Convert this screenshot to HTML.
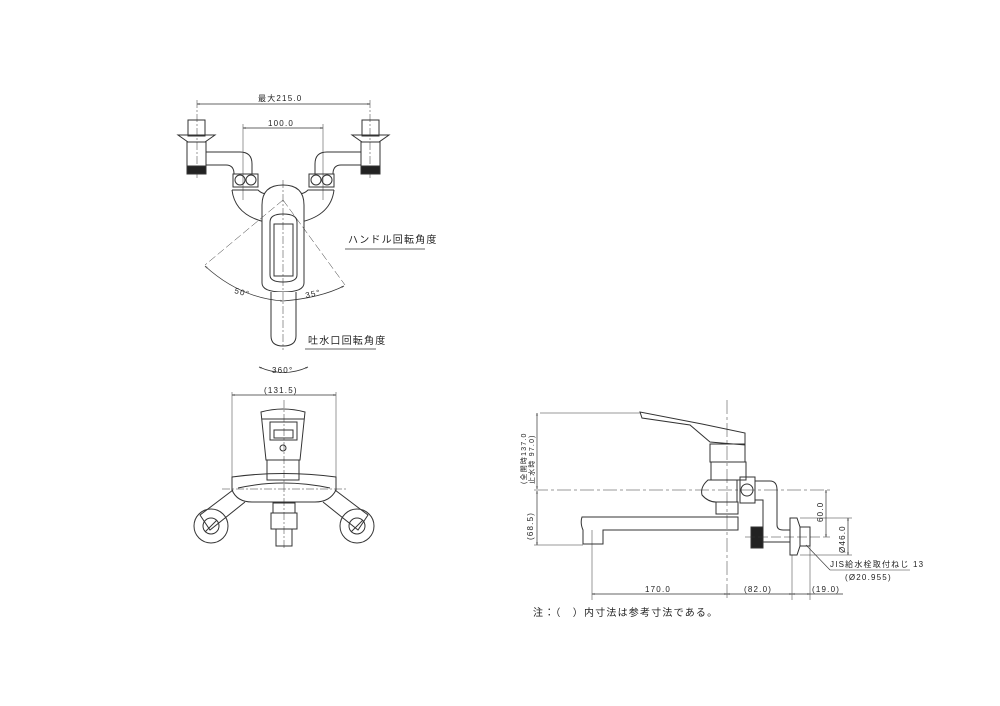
<!DOCTYPE html>
<html><head><meta charset="utf-8"><style>
html,body{margin:0;padding:0;background:#fff;}
svg{display:block;}
text{font-family:"Liberation Sans","Noto Sans CJK JP",sans-serif;fill:#222;letter-spacing:1.2px;}
</style></head><body>
<svg width="1000" height="706" viewBox="0 0 1000 706" xmlns="http://www.w3.org/2000/svg">
<defs>
<marker id="a" viewBox="0 0 10 10" refX="10" refY="5" markerWidth="6" markerHeight="4" orient="auto-start-reverse"><path d="M0,2 L10,5 L0,8" fill="none" stroke="#444" stroke-width="1"/></marker>
</defs>
<g fill="none" stroke="#333" stroke-width="1">
<!-- TOP VIEW -->
<line x1="197" y1="104" x2="370" y2="104" stroke-width="0.7" marker-start="url(#a)" marker-end="url(#a)"/>
<text x="258" y="101" font-size="8" stroke="none">最大215.0</text>
<line x1="243" y1="128" x2="323" y2="128" stroke-width="0.7" marker-start="url(#a)" marker-end="url(#a)"/>
<text x="268" y="126" font-size="8" stroke="none">100.0</text>
<line x1="197" y1="100" x2="197" y2="180" stroke-width="0.5" stroke-dasharray="8,2,2,2"/>
<line x1="370" y1="100" x2="370" y2="180" stroke-width="0.5" stroke-dasharray="8,2,2,2"/>
<line x1="243" y1="124" x2="243" y2="200" stroke-width="0.5"/>
<line x1="323" y1="124" x2="323" y2="200" stroke-width="0.5"/>
<rect x="188" y="120" width="17" height="16"/>
<path d="M178,135 L215,135 L205,142 L188,142 Z"/>
<rect x="187" y="142" width="19" height="24"/>
<rect x="187" y="166" width="19" height="8" fill="#222"/>
<path d="M206,152 H240 Q252,152 252,164 V174 M206,165 H226 Q234,165 234,174"/>
<rect x="233" y="174" width="25" height="13"/>
<circle cx="240" cy="180" r="5"/><circle cx="251" cy="180" r="5"/>
<rect x="362" y="120" width="17" height="16"/>
<path d="M352,135 L389,135 L379,142 L362,142 Z"/>
<rect x="361" y="142" width="19" height="24"/>
<rect x="361" y="166" width="19" height="8" fill="#222"/>
<path d="M361,152 H327 Q315,152 315,164 V174 M361,165 H341 Q333,165 333,174"/>
<rect x="309" y="174" width="25" height="13"/>
<circle cx="316" cy="180" r="5"/><circle cx="327" cy="180" r="5"/>
<path d="M232,190 Q235,215 265,222 M334,190 Q331,215 301,222 M232,190 H258 Q264,196 270,192 M334,190 H308 Q302,196 296,192"/>
<path d="M262,205 Q262,185 283,185 Q304,185 304,205 L304,283 Q304,292 283,292 Q262,292 262,283 Z" fill="#fff"/>
<path d="M270,222 Q270,214 283,214 Q297,214 297,222 L297,275 Q297,282 283,282 Q270,282 270,275 Z"/>
<rect x="274" y="224" width="19" height="52"/>
<path d="M271,292 V336 Q271,346 283,346 Q296,346 296,336 V292" fill="#fff"/>
<line x1="283" y1="180" x2="283" y2="350" stroke-width="0.5" stroke-dasharray="8,2,2,2"/>
<line x1="283" y1="200" x2="205" y2="265" stroke-width="0.5" stroke-dasharray="8,3"/>
<line x1="283" y1="200" x2="345" y2="285" stroke-width="0.5" stroke-dasharray="8,3"/>
<path d="M205,266 Q240,298 283,301" stroke-width="0.7" marker-start="url(#a)" marker-end="url(#a)"/>
<path d="M283,301 Q320,298 344,286" stroke-width="0.7" marker-end="url(#a)"/>
<text x="234" y="293" font-size="8" stroke="none" transform="rotate(15 234 293)">50°</text>
<text x="306" y="298" font-size="8" stroke="none" transform="rotate(-12 306 298)">35°</text>
<text x="348" y="243" font-size="10" stroke="none">ハンドル回転角度</text>
<line x1="345" y1="249" x2="425" y2="249" stroke-width="0.7"/>
<text x="308" y="344" font-size="10" stroke="none">吐水口回転角度</text>
<line x1="305" y1="349" x2="376" y2="349" stroke-width="0.7"/>
<path d="M259,367 Q284,378 308,367" stroke-width="0.7" marker-start="url(#a)" marker-end="url(#a)"/>
<text x="272" y="373" font-size="8" stroke="none">360°</text>

<!-- FRONT VIEW -->
<line x1="232" y1="395" x2="336" y2="395" stroke-width="0.7" marker-start="url(#a)" marker-end="url(#a)"/>
<text x="264" y="393" font-size="8" stroke="none">(131.5)</text>
<line x1="232" y1="392" x2="232" y2="478" stroke-width="0.5"/>
<line x1="336" y1="392" x2="336" y2="478" stroke-width="0.5"/>
<path d="M261,412 Q283,406 305,412 L300,460 H266 Z"/>
<line x1="262" y1="419" x2="304" y2="419"/>
<rect x="270" y="422" width="27" height="18"/><rect x="274" y="430" width="19" height="8"/>
<circle cx="283" cy="448" r="3"/>
<rect x="267" y="460" width="32" height="20"/>
<path d="M232,477 Q283,470 336,477 L336,490 Q330,502 315,502 H252 Q237,502 232,490 Z"/>
<path d="M238,488 Q283,478 330,488"/>
<path d="M233,490 L200,515 L210,530 L245,502 M335,490 L368,515 L358,530 L323,502"/>
<circle cx="211" cy="526" r="17"/><circle cx="211" cy="526" r="8"/>
<circle cx="357" cy="526" r="17"/><circle cx="357" cy="526" r="8"/>
<line x1="205" y1="532" x2="217" y2="520"/><line x1="351" y1="532" x2="363" y2="520"/>
<rect x="273" y="503" width="22" height="10"/>
<rect x="271" y="513" width="26" height="16"/>
<rect x="276" y="529" width="16" height="17"/>
<line x1="284" y1="400" x2="284" y2="550" stroke-width="0.5" stroke-dasharray="8,2,2,2"/>
<line x1="222" y1="489" x2="346" y2="489" stroke-width="0.5" stroke-dasharray="8,2,2,2"/>

<!-- SIDE VIEW -->
<line x1="540" y1="413" x2="640" y2="413" stroke-width="0.5"/>
<line x1="537" y1="413" x2="537" y2="489" stroke-width="0.7" marker-start="url(#a)" marker-end="url(#a)"/>
<line x1="537" y1="491" x2="537" y2="545" stroke-width="0.7" marker-start="url(#a)" marker-end="url(#a)"/>
<line x1="534" y1="545" x2="583" y2="545" stroke-width="0.5"/>
<line x1="534" y1="490" x2="830" y2="490" stroke-width="0.5" stroke-dasharray="14,3,3,3"/>
<text x="0" y="0" font-size="7" stroke="none" transform="translate(526,484) rotate(-90)">(全開時137.0</text>
<text x="0" y="0" font-size="7" stroke="none" transform="translate(534,484) rotate(-90)">止水時 97.0)</text>
<text x="0" y="0" font-size="8" stroke="none" transform="translate(533,540) rotate(-90)">(68.5)</text>
<path d="M640,412 L642,418 L690,425 L710,442 L745,445 L745,433 L702,424 Z" fill="#fff"/>
<rect x="710" y="444" width="35" height="18"/>
<rect x="711" y="462" width="35" height="18"/>
<path d="M708,480 Q700,487 702,495 Q708,502 716,502 L737,502 L737,480 Z"/>
<rect x="716" y="502" width="22" height="12"/>
<rect x="740" y="477" width="15" height="26"/><circle cx="747" cy="490" r="6"/>
<path d="M755,481 H770 Q777,481 777,490 V525 Q777,530 783,530 H790 M755,500 H763 V542 H790"/>
<path d="M790,518 L797,518 L800,527 L800,546 L797,555 L790,555 Z"/>
<rect x="800" y="527" width="10" height="19"/>
<rect x="751" y="527" width="12" height="21" fill="#222"/>
<path d="M582,517 H738 V530 H603 V544 H583 V530 Q580,523 582,517 Z"/>
<line x1="727" y1="400" x2="727" y2="600" stroke-width="0.5" stroke-dasharray="14,3,3,3"/>
<line x1="592" y1="530" x2="592" y2="600" stroke-width="0.5"/>
<line x1="792" y1="555" x2="792" y2="600" stroke-width="0.5"/>
<line x1="810" y1="545" x2="810" y2="600" stroke-width="0.5"/>
<line x1="745" y1="537" x2="830" y2="537" stroke-width="0.5" stroke-dasharray="10,3"/>
<line x1="826" y1="490" x2="826" y2="537" stroke-width="0.7" marker-start="url(#a)" marker-end="url(#a)"/>
<text x="0" y="0" font-size="8" stroke="none" transform="translate(823,522) rotate(-90)">60.0</text>
<line x1="800" y1="518" x2="852" y2="518" stroke-width="0.5"/>
<line x1="800" y1="555" x2="852" y2="555" stroke-width="0.5"/>
<line x1="848" y1="518" x2="848" y2="555" stroke-width="0.7" marker-start="url(#a)" marker-end="url(#a)"/>
<text x="0" y="0" font-size="8" stroke="none" transform="translate(845,553) rotate(-90)">Ø46.0</text>
<line x1="806" y1="545" x2="830" y2="570" stroke-width="0.6"/>
<line x1="830" y1="570" x2="910" y2="570" stroke-width="0.6"/>
<text x="830" y="567" font-size="8" stroke="none">JIS給水栓取付ねじ 13</text>
<text x="845" y="580" font-size="8" stroke="none">(Ø20.955)</text>
<line x1="592" y1="594" x2="727" y2="594" stroke-width="0.7" marker-start="url(#a)" marker-end="url(#a)"/>
<text x="645" y="592" font-size="8" stroke="none">170.0</text>
<line x1="727" y1="594" x2="792" y2="594" stroke-width="0.7" marker-start="url(#a)" marker-end="url(#a)"/>
<text x="744" y="592" font-size="8" stroke="none">(82.0)</text>
<line x1="792" y1="594" x2="810" y2="594" stroke-width="0.7" marker-start="url(#a)" marker-end="url(#a)"/>
<line x1="810" y1="594" x2="843" y2="594" stroke-width="0.7"/>
<text x="812" y="592" font-size="8" stroke="none">(19.0)</text>
<text x="533" y="616" font-size="10" stroke="none">注：（　）内寸法は参考寸法である。</text>
</g>
</svg>
</body></html>
